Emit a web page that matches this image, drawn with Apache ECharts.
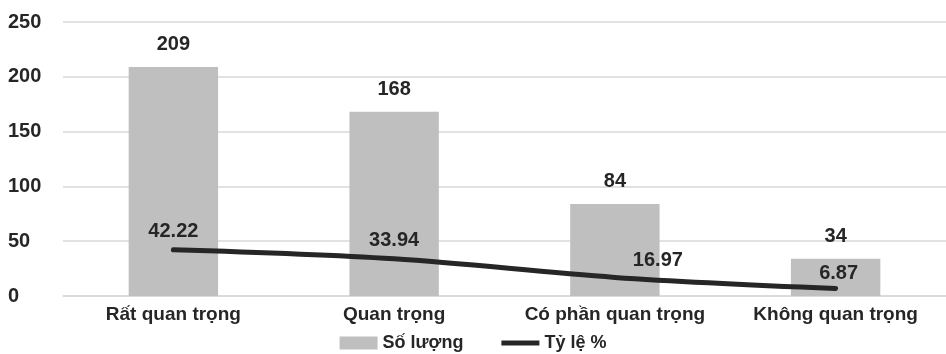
<!DOCTYPE html>
<html><head><meta charset="utf-8">
<script src="https://cdn.jsdelivr.net/npm/echarts@6/dist/echarts.min.js"></script>
<style>html,body{margin:0;padding:0;background:#fff}#c{width:946px;height:354px}</style>
</head><body><div id="c"></div>
<script>
var categories = ["Rất quan trọng", "Quan trọng", "Có phần quan trọng", "Không quan trọng"];
var soLuong = [209, 168, 84, 34];
var tyLe = [42.22, 33.94, 16.97, 6.87];
var yTicks = [0, 50, 100, 150, 200, 250];

var font = "Liberation Sans";
var lineLabelOffsets = [[0, 0], [0, 0], [43, 2], [3, 4]];
var chart = echarts.init(document.getElementById('c'));
chart.setOption({
  animation: false,
  textStyle: {fontFamily: font},
  grid: {left: 63, width: 891, top: 22, bottom: 58},
  legend: {
    bottom: -3, left: 'center', itemGap: 38, itemWidth: 38, itemHeight: 13,
    textStyle: {fontFamily: font, fontWeight: 'bold', fontSize: 18, color: '#262626'},
    data: [{name: 'Số lượng', icon: 'rect'}, {name: 'Tỷ lệ %', icon: 'path://M0,4 L38,4 L38,9 L0,9 Z', itemStyle: {color: '#262626'}}]
  },
  xAxis: {
    type: 'category', data: categories,
    axisLine: {lineStyle: {color: '#d9d9d9', width: 1.5}},
    axisTick: {show: false},
    axisLabel: {interval: 0, fontFamily: font, fontWeight: 'bold', fontSize: 19, color: '#262626', margin: 9}
  },
  yAxis: {
    type: 'value', min: yTicks[0], max: yTicks[yTicks.length - 1], interval: 50,
    axisLine: {show: false}, axisTick: {show: false},
    splitLine: {lineStyle: {color: '#d9d9d9', width: 1.5}},
    axisLabel: {fontFamily: font, fontWeight: 'bold', fontSize: 20, color: '#262626', align: 'left', margin: 55}
  },
  series: [
    {
      name: 'Số lượng', type: 'bar', data: soLuong, barWidth: '40.5%',
      itemStyle: {color: '#bfbfbf'},
      label: {show: true, position: 'top', distance: 12, fontFamily: font, fontWeight: 'bold', fontSize: 20, color: '#262626'}
    },
    {
      name: 'Tỷ lệ %', type: 'line', smooth: 0.35, z: 5,
      data: tyLe,
      symbol: 'circle', symbolSize: 1, showSymbol: true,
      lineStyle: {color: '#262626', width: 5, cap: 'round'},
      itemStyle: {color: '#262626'},
      labelLayout: function (p) {
        var o = lineLabelOffsets[p.dataIndex] || [0, 0];
        return {dx: o[0], dy: o[1], hideOverlap: false};
      },
      label: {show: true, position: 'top', distance: 8, fontFamily: font, fontWeight: 'bold', fontSize: 20, color: '#262626'}
    }
  ]
});
</script></body></html>
